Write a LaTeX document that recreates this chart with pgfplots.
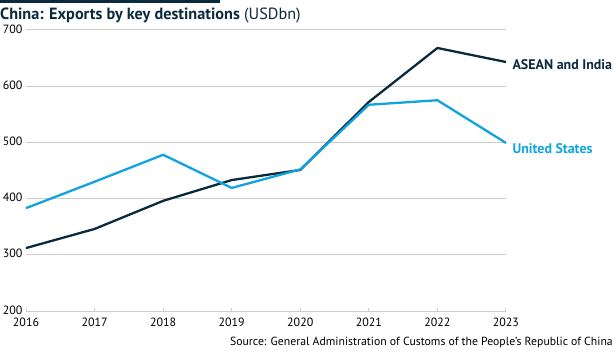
\documentclass[border=0pt]{standalone}
\usepackage{pgfplots}
\pgfplotsset{compat=1.18}
\usepackage{fontspec}
\setmainfont{PT Sans}
\definecolor{navy}{HTML}{0B2A3C}
\definecolor{skyb}{HTML}{10A3E0}
\definecolor{gridg}{HTML}{CCCCCC}
\begin{document}
\begin{tikzpicture}[x=1bp,y=1bp]
\path[use as bounding box] (0,0) rectangle (615,350);
\fill[navy] (0,347) rectangle (220,350);
\node[anchor=base west, inner sep=0pt, font=\fontsize{16.3}{18}\selectfont, text=navy] at (0,331) {\textbf{China: Exports by key destinations} (USDbn)};
\node[anchor=base east, inner sep=0pt, font=\fontsize{11.8}{13}\selectfont] at (613,5) {Source: General Administration of Customs of the People’s Republic of China};
\begin{axis}[
  at={(26bp,39bp)}, anchor=south west,
  scale only axis, width=480bp, height=281bp,
  xmin=2016, xmax=2023, ymin=200, ymax=700,
  xtick={2016,...,2023}, ytick={200,300,...,700},
  xticklabel style={/pgf/number format/1000 sep={}, font=\fontsize{12}{13}\selectfont, inner sep=0.5bp, anchor=north, yshift=-6bp},
  yticklabel style={font=\fontsize{12}{13}\selectfont, inner sep=0.5bp, anchor=east, xshift=-3bp, yshift=1bp},
  /pgf/number format/assume math mode=true,
  axis x line*=bottom, axis y line*=left,
  x axis line style={gridg, line width=1bp, -},
  y axis line style={draw=none},
  ymajorgrids, grid style={gridg, line width=1bp},
  major tick length=3bp, tick align=inside,
  xtick style={gridg, line width=1bp},
  ytick style={draw=none},
  clip=false,
]
\addplot[navy, line width=2.3bp] coordinates {(2016,312)(2017,346)(2018,396)(2019,433)(2020,451)(2021,572)(2022,668)(2023,643)};
\addplot[skyb, line width=2.3bp] coordinates {(2016,383)(2017,430)(2018,478)(2019,419)(2020,452)(2021,567)(2022,575)(2023,499)};
\node[anchor=west, font=\bfseries\fontsize{14}{15}\selectfont, text=navy] at (axis cs:2023,638) [xshift=3bp] {ASEAN and India};
\node[anchor=west, font=\bfseries\fontsize{14}{15}\selectfont, text=skyb] at (axis cs:2023,489) [xshift=3bp] {United States};
\end{axis}
\end{tikzpicture}
\end{document}
